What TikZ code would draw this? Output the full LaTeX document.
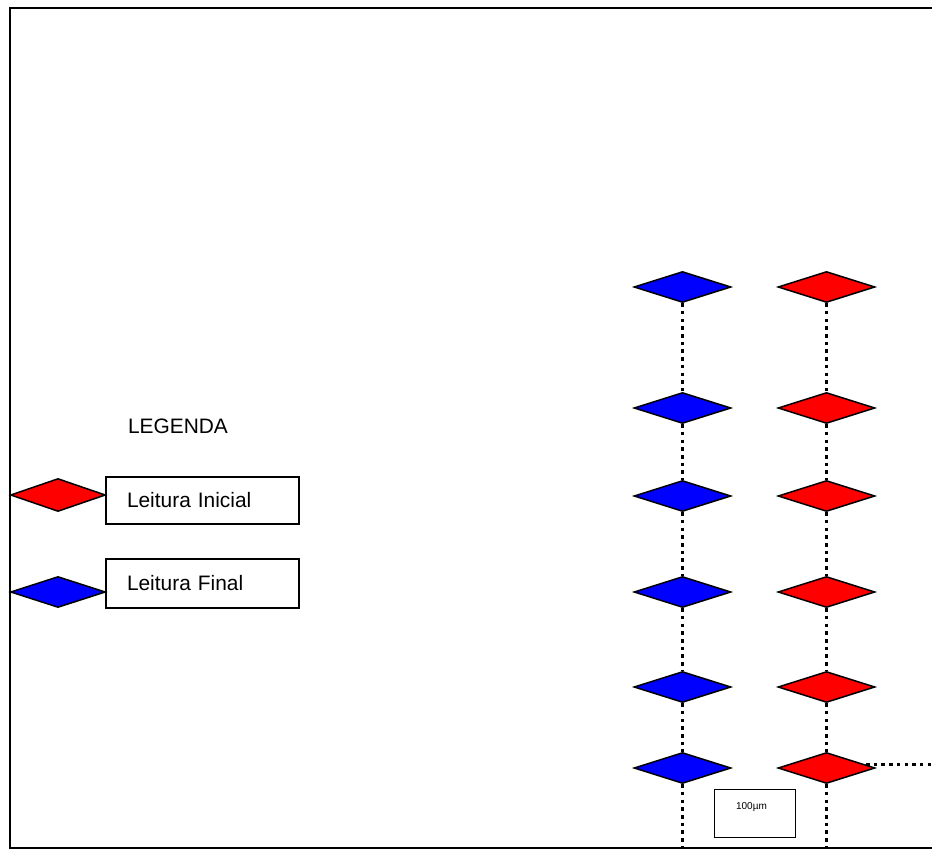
\documentclass[tikz,border=0pt]{standalone}
\usepackage{fontspec}
\setmainfont{Liberation Sans}
\usetikzlibrary{shapes.geometric}
\definecolor{mark blue}{RGB}{0,0,255}
\definecolor{mark red}{RGB}{255,0,0}
\tikzset{
  gem/.style={diamond, draw=black, line width=1.5pt, inner sep=0pt, aspect=3,
              minimum width=97pt, minimum height=31pt},
  gemblue/.style={gem, fill=mark blue},
  gemred/.style={gem, fill=mark red},
  dotline/.style={line width=3pt, dash pattern=on 3.5pt off 4.2pt},
  keybox/.style={draw=black, line width=1.2pt, minimum width=193pt, align=left,
                 text width=151pt, inner xsep=21pt, inner ysep=0pt,
                 font=\fontsize{20.9}{24}\selectfont},
}
\begin{document}
\begin{tikzpicture}[x=1pt, y=-1pt]
  \clip (0,0) rectangle (932,853);
  \fill[white] (0,0) rectangle (932,853);
  % outer frame, running off the right edge
  \draw[line width=2pt] (960,8) -- (10,8) -- (10,848) -- (960,848);

  % legend
  \node[font=\fontsize{20.9}{24}\selectfont] (legtitle) at (178,426) {LEGENDA};
  \node[gemred, minimum width=95pt, minimum height=33pt] (legred) at (58,495) {};
  \node[keybox, minimum height=47pt] (legredtxt) at (202.5,500.5) {Leitura Inicial};
  \node[gemblue, minimum width=95pt, minimum height=31pt] (legblue) at (58,592) {};
  \node[keybox, minimum height=49pt] (legbluetxt) at (202.5,583.5) {Leitura Final};

  % two columns of readings
  \foreach \i/\y in {1/287,2/408,3/496,4/592,5/687,6/768} {
    \node[gemblue] (b\i) at (682.5,\y) {};
    \node[gemred] (r\i) at (826.5,\y) {};
  }
  \foreach \a/\b in {1/2,2/3,3/4,4/5,5/6} {
    \draw[dotline] (b\a.south) -- (b\b.north);
    \draw[dotline] (r\a.south) -- (r\b.north);
  }
  \coordinate (bend) at (682.5,860);
  \coordinate (rend) at (826.5,860);
  \coordinate (hstart) at (866,764);
  \coordinate (hend) at (940,764);
  \draw[dotline] (b6.south) -- (bend);
  \draw[dotline] (r6.south) -- (rend);
  \draw[dotline] (hstart) -- (hend);

  % scale box
  \node[draw=black, line width=1.2pt, minimum width=81pt, minimum height=48pt,
        inner sep=0pt, anchor=north west] (scale) at (714,789) {};
  \node[font=\fontsize{10}{12}\selectfont] (scaletxt) at (751.5,807) {100µm};
\end{tikzpicture}
\end{document}
